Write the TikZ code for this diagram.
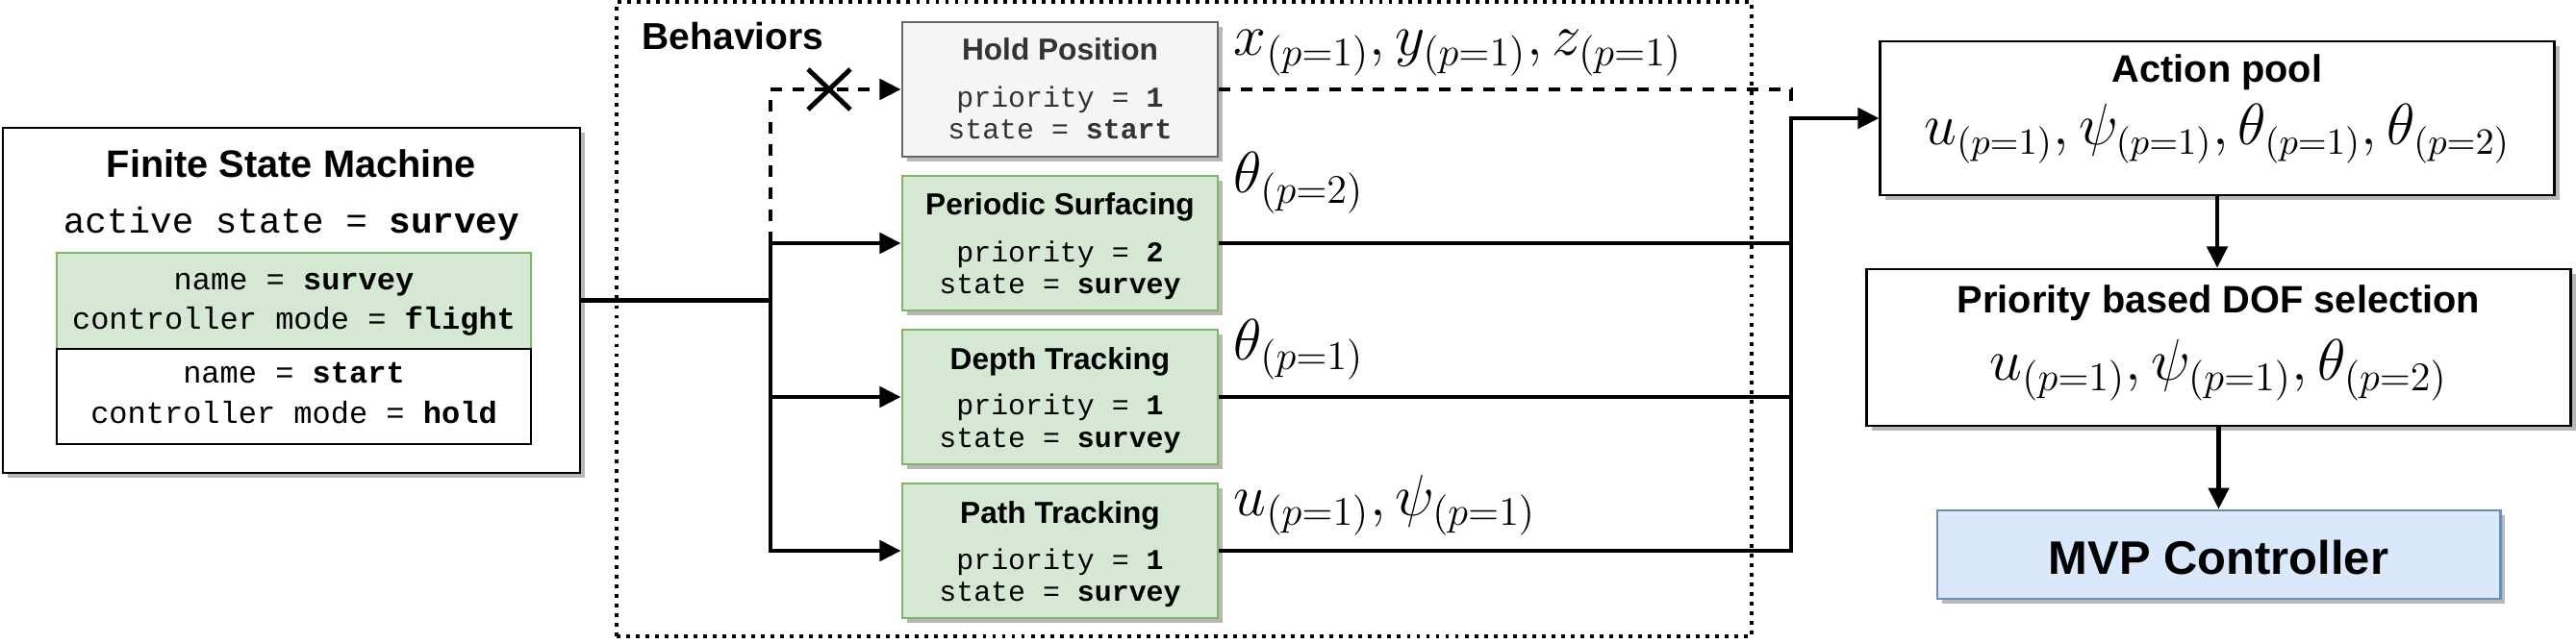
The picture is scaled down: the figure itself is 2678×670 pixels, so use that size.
\documentclass[tikz,border=0pt]{standalone}
\usepackage[no-math]{fontspec}
\newfontfamily\arialf{Liberation Sans}
\newfontfamily\courf{Liberation Mono}
\usetikzlibrary{arrows.meta,shadows,calc}
\definecolor{gfill}{HTML}{D5E8D4}
\definecolor{gline}{HTML}{82B366}
\definecolor{hfill}{HTML}{F5F5F5}
\definecolor{hline}{HTML}{666666}
\definecolor{htext}{HTML}{333333}
\definecolor{bfill}{HTML}{DAE8FC}
\definecolor{bline}{HTML}{6C8EBF}
\newcommand{\fs}[1]{\fontsize{#1}{#1}\selectfont}
\begin{document}
\begin{tikzpicture}[x=0.01cm,y=-0.01cm,
  boxshadow/.style={drop shadow={shadow xshift=1.5pt,shadow yshift=-1.5pt,fill=black!28,opacity=1}},
  frame/.style={draw,line width=0.75pt,inner sep=0pt},
  sbox/.style={frame,fill=white,boxshadow},
  gbox/.style={frame,fill=gfill,draw=gline},
  hbox/.style={frame,fill=hfill,draw=hline,boxshadow},
  behbox/.style={gbox,boxshadow,minimum width=3.28cm,minimum height=1.4cm},
  bluebox/.style={frame,fill=bfill,draw=bline,boxshadow},
  ttl/.style={anchor=base,font=\arialf\bfseries\fs{11.3}},
  btl/.style={anchor=base,font=\arialf\bfseries\fs{9}},
  mono/.style={anchor=base,font=\courf\fs{8.5}},
  fmono/.style={anchor=base,font=\courf\fs{9.1}},
  mlab/.style={anchor=base west,font=\fs{18.6},inner sep=0pt},
  conn/.style={line width=1.35pt},
  arr/.style={conn,-{Triangle[length=6.3pt,width=6pt]}},
  dsh/.style={dash pattern=on 3.4pt off 3.1pt},
  dotline/.style={line width=1.1pt,dash pattern=on 1.1pt off 1.75pt}]
\useasboundingbox (0,0) rectangle (2678,670);

% Behaviors frame
\node[draw,dotline,inner sep=0pt,minimum width=11.8cm,minimum height=6.6cm] (beh) at (1231,332) {};
\node[anchor=base west,font=\arialf\bfseries\fs{11.1},inner sep=0pt] (behl) at (667,52) {Behaviors};

% FSM
\node[sbox,minimum width=6cm,minimum height=3.59cm] (fsm) at (303,312.5) {};
\node[ttl] (fsmt) at (303,185) {Finite State Machine};
\node[anchor=base,font=\courf\fs{10.7}] (fsma) at (303,242) {active state = \textbf{survey}};
\node[gbox,minimum width=4.93cm,minimum height=1cm] (st1) at (305.5,313) {};
\node[frame,fill=white,minimum width=4.93cm,minimum height=0.99cm] (st2) at (305.5,412.5) {};
\node[fmono] (st1a) at (305.5,301) {name = \textbf{survey}};
\node[fmono] (st1b) at (305.5,342) {controller mode = \textbf{flight}};
\node[fmono] (st2a) at (305.5,398) {name = \textbf{start}};
\node[fmono] (st2b) at (305.5,440) {controller mode = \textbf{hold}};

% Behaviors boxes
\node[hbox,minimum width=3.28cm,minimum height=1.4cm] (hp) at (1102,93) {};
\node[btl,text=htext] (hpt) at (1102,63) {Hold Position};
\node[mono,text=htext] (hpa) at (1102,112) {priority = \textbf{1}};
\node[mono,text=htext] (hpb) at (1102,145) {state = \textbf{start}};

\node[behbox] (ps) at (1102,253) {};
\node[btl] (pst) at (1102,224) {Periodic Surfacing};
\node[mono] (psa) at (1102,272) {priority = \textbf{2}};
\node[mono] (psb) at (1102,305) {state = \textbf{survey}};

\node[behbox] (dt) at (1102,413) {};
\node[btl] (dtt) at (1102,384) {Depth Tracking};
\node[mono] (dta) at (1102,432) {priority = \textbf{1}};
\node[mono] (dtb) at (1102,465) {state = \textbf{survey}};

\node[behbox] (pt) at (1102,573) {};
\node[btl] (ptt) at (1102,544) {Path Tracking};
\node[mono] (pta) at (1102,592) {priority = \textbf{1}};
\node[mono] (ptb) at (1102,625) {state = \textbf{survey}};

% output labels
\node[mlab] (lhp) at (1282,58) {$x_{(p=1)}, y_{(p=1)}, z_{(p=1)}$};
\node[mlab] (lps) at (1282,201) {$\theta_{(p=2)}$};
\node[mlab] (ldt) at (1282,374) {$\theta_{(p=1)}$};
\node[mlab] (lpt) at (1282,536) {$u_{(p=1)}, \psi_{(p=1)}$};

% right column
\node[sbox,minimum width=7cm,minimum height=1.6cm] (ap) at (2305,123) {};
\node[ttl] (apt) at (2305,86) {Action pool};
\node[anchor=base,font=\fs{16}] (apm) at (2305,151) {$u_{(p=1)}, \psi_{(p=1)}, \theta_{(p=1)}, \theta_{(p=2)}$};

\node[sbox,minimum width=7.31cm,minimum height=1.63cm] (dof) at (2306.5,361.5) {};
\node[ttl] (doft) at (2306.5,326) {Priority based DOF selection};
\node[anchor=base,font=\fs{18.1}] (dofm) at (2306.5,396) {$u_{(p=1)}, \psi_{(p=1)}, \theta_{(p=2)}$};

\node[bluebox,minimum width=5.85cm,minimum height=0.92cm] (mvp) at (2306.5,577) {};
\node[anchor=base,font=\arialf\bfseries\fs{13.9}] (mvpt) at (2306.5,597) {MVP Controller};

% connectors
\coordinate (J) at (801,312.5);
\coordinate (Jt) at (801,253);
\coordinate (C) at (1862,123);
\coordinate (Cd) at (1862,107);
\coordinate (X) at (862,93);

\draw[conn] (fsm.east) -- (J);
\draw[arr] (J) |- (ps.west);
\draw[arr] (J) |- (dt.west);
\draw[arr] (J) |- (pt.west);
\draw[arr,dsh] (Jt) |- (hp.west);
\draw[line width=1.4pt] ($(X)+(-22,-21)$) -- ($(X)+(22,21)$);
\draw[line width=1.4pt] ($(X)+(-22,21)$) -- ($(X)+(22,-21)$);

\draw[conn,dsh] (hp.east) -| (Cd);
\draw[conn] (ps.east) -- (ps.east -| C);
\draw[conn] (dt.east) -- (dt.east -| C);
\draw[arr] (pt.east) -| (C) -- (ap.west);

\draw[arr] (ap.south) -- (ap.south |- dof.north);
\draw[arr] (dof.south) -- (dof.south |- mvp.north);
\end{tikzpicture}
\end{document}
